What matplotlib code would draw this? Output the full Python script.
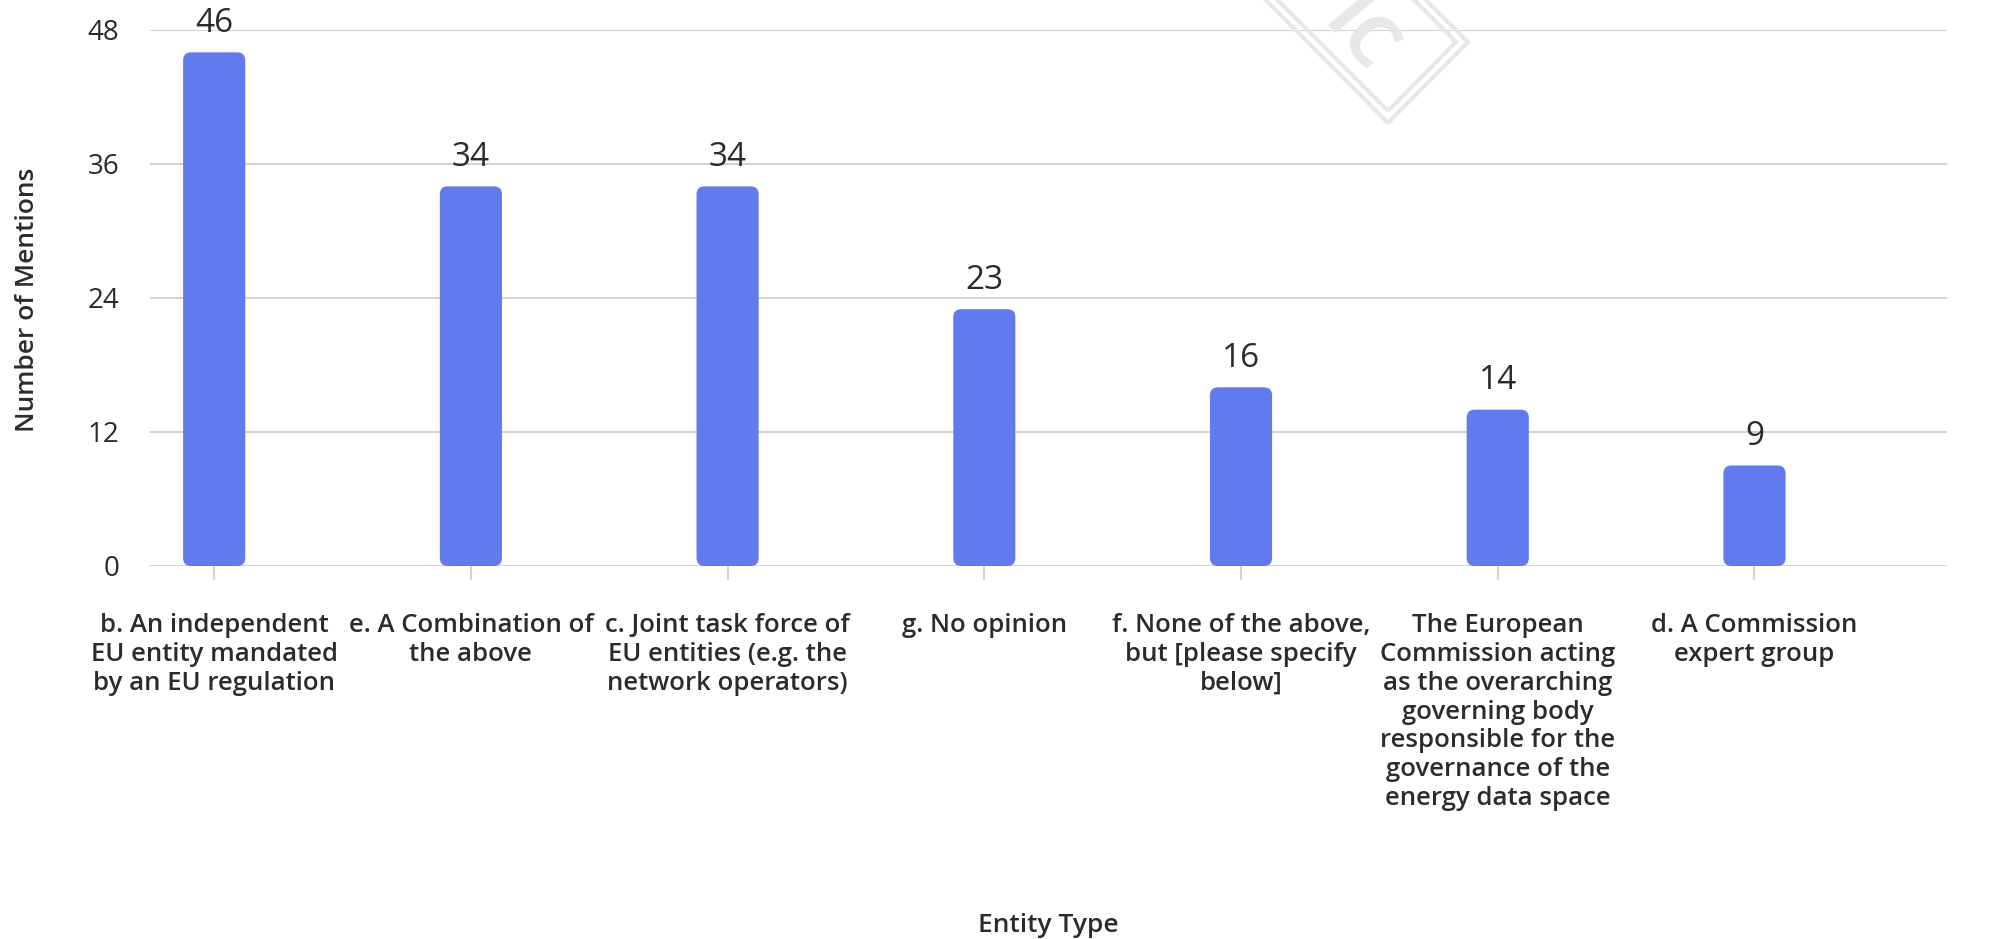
import numpy as np
import matplotlib
matplotlib.use("Agg")
import matplotlib.pyplot as plt
from matplotlib.patches import FancyBboxPatch, Polygon

# data
categories = [
    "b. An independent\nEU entity mandated\nby an EU regulation",
    "e. A Combination of\nthe above",
    "c. Joint task force of\nEU entities (e.g. the\nnetwork operators)",
    "g. No opinion",
    "f. None of the above,\nbut [please specify\nbelow]",
    "The European\nCommission acting\nas the overarching\ngoverning body\nresponsible for the\ngovernance of the\nenergy data space",
    "d. A Commission\nexpert group",
]
mentions = [46, 34, 34, 23, 16, 14, 9]
y_ticks = [0, 12, 24, 36, 48]

BAR_COLOR = "#617bef"
GRID_COLOR = "#d3d3d3"
TEXT_COLOR = "#2b2b2b"

plt.rcParams["font.family"] = ["Open Sans", "DejaVu Sans"]

W, H = 1996, 939
fig = plt.figure(figsize=(W / 100, H / 100), dpi=100)
ax = fig.add_axes([150 / W, 1 - 566 / H, 1797 / W, 536 / H])

x = np.arange(len(categories))
bars = ax.bar(x, mentions, width=0.242, color=BAR_COLOR, zorder=3)
ax.set_xlim(-0.25, len(categories) - 0.5 + 0.25)
ax.set_ylim(0, 48)

# swap the plain rectangles for rounded ones
fig.canvas.draw()
p0 = ax.transData.transform((0, 0))
p1 = ax.transData.transform((1, 1))
px_x = p1[0] - p0[0]
px_y = p1[1] - p0[1]
radius_px = 8
for b in bars:
    b.set_visible(False)
    patch = FancyBboxPatch(
        (b.get_x(), b.get_y()), b.get_width(), b.get_height(),
        boxstyle="round,pad=0,rounding_size=%f" % (radius_px / px_x),
        mutation_aspect=px_x / px_y,
        facecolor=BAR_COLOR, edgecolor="none", zorder=3,
    )
    ax.add_patch(patch)

# value labels
for xi, v in zip(x, mentions):
    ax.annotate(str(v), (xi, v), xytext=(0, 9), textcoords="offset points",
                ha="center", va="bottom", fontsize=24, fontweight="medium",
                color=TEXT_COLOR)

ax.set_yticks(y_ticks)
ax.set_yticklabels([str(t) for t in y_ticks])
ax.set_xticks(x)
ax.set_xticklabels(categories, fontsize=18.5, fontweight="semibold",
                   color=TEXT_COLOR, linespacing=1.2)
ax.tick_params(axis="y", length=0, pad=22, labelsize=20, labelcolor=TEXT_COLOR)
ax.tick_params(axis="x", length=10, width=1.5, color=GRID_COLOR, pad=24)

ax.grid(axis="y", color=GRID_COLOR, linewidth=1.5, zorder=0)
ax.set_axisbelow(True)
for s in ax.spines.values():
    s.set_visible(False)

fig.text(28 / W, 1 - 300 / H, "Number of Mentions", rotation=90,
         ha="center", va="center", fontsize=19, fontweight="semibold",
         color=TEXT_COLOR)
fig.text(1048 / W, 1 / H, "Entity Type", ha="center", va="bottom",
         fontsize=19, fontweight="semibold", color=TEXT_COLOR)

# faint watermark at the top
wm = "#e7e7e7"
outer = [(1388, 123), (1468, 42), (1268, -158), (1188, -78)]
inner = [(1388, 111), (1456, 42), (1268, -146), (1200, -78)]
for pts in (outer, inner):
    poly = Polygon([(px / W, 1 - py / H) for px, py in pts], closed=True,
                   transform=fig.transFigure, fill=False, edgecolor=wm,
                   linewidth=3, zorder=1)
    fig.add_artist(poly)
fig.text(1358 / W, 1 - 38 / H, "IC", rotation=-50, ha="center", va="center",
         fontsize=52, fontweight="bold", color=wm, zorder=1)

fig.savefig("out.png", dpi=100, facecolor="white")
